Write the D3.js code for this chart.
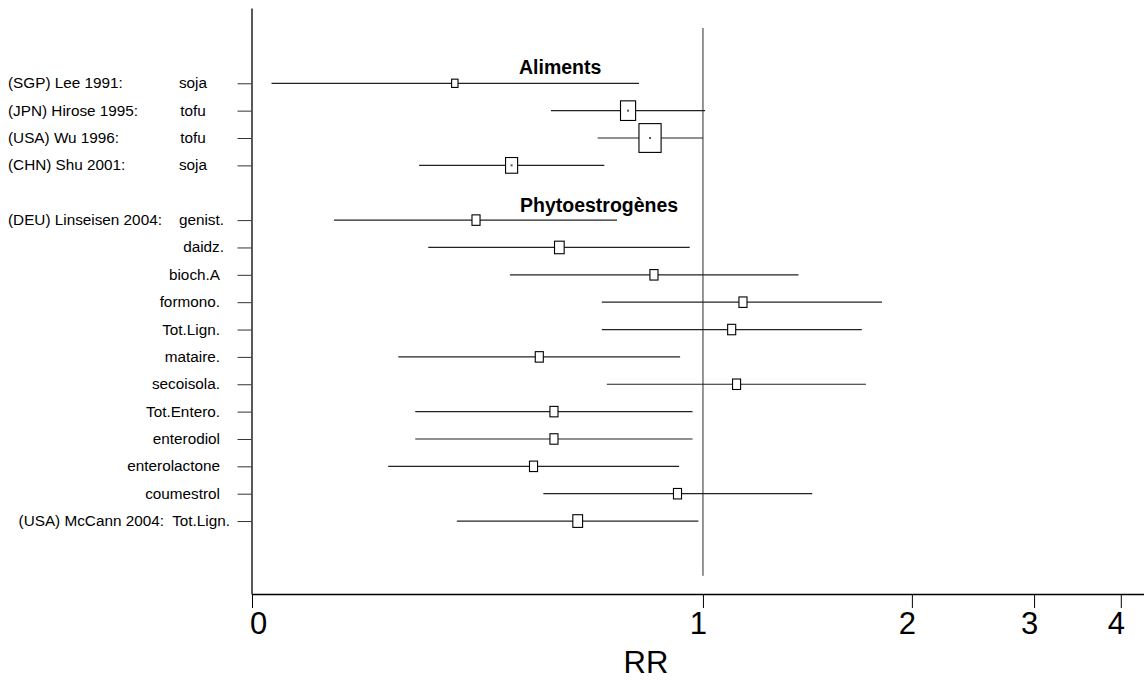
<!DOCTYPE html>
<html>
<head>
<meta charset="utf-8">
<script src="https://cdn.jsdelivr.net/npm/d3@7"></script>
<style>
  html, body { margin: 0; padding: 0; background: #fff; }
  svg { display: block; font-family: "Liberation Sans", Arial, sans-serif; }
  text { white-space: pre; }
</style>
</head>
<body>
<svg id="chart" width="1144" height="681"></svg>
<script>
// ---- data ----
const rows      = [0, 1, 2, 3, 5, 6, 7, 8, 9, 10, 11, 12, 13, 14, 15, 16];
const studies   = ["(SGP) Lee 1991:", "(JPN) Hirose 1995:", "(USA) Wu 1996:", "(CHN) Shu 2001:",
                   "(DEU) Linseisen 2004:", "", "", "", "", "", "", "", "", "", "", ""];
const exposures = ["soja", "tofu", "tofu", "soja",
                   "genist.", "daidz.", "bioch.A", "formono.", "Tot.Lign.", "mataire.", "secoisola.",
                   "Tot.Entero.", "enterodiol", "enterolactone", "coumestrol", "(USA) McCann 2004:  Tot.Lign."];
const rr        = [0.439, 0.780, 0.839, 0.530, 0.471, 0.621, 0.850, 1.142, 1.100, 0.581, 1.118, 0.610, 0.610, 0.570, 0.919, 0.660];
const lower     = [0.239, 0.604, 0.705, 0.390, 0.294, 0.402, 0.527, 0.715, 0.715, 0.364, 0.727, 0.385, 0.385, 0.352, 0.589, 0.442];
const upper     = [0.809, 1.007, 1.000, 0.721, 0.752, 0.957, 1.373, 1.811, 1.694, 0.927, 1.717, 0.966, 0.966, 0.924, 1.437, 0.985];
const weights   = [40, 225, 484, 144, 64, 92, 64, 64, 64, 64, 64, 64, 64, 64, 64, 94];
const groups    = ["Aliments", "Phytoestrogènes"];
const groupRows = [-0.34, 4.70];
const xTickValues = [0.224, 1, 2, 3, 4];
const xTickLabels = ["0", "1", "2", "3", "4"];
const xTitle = "RR";

// ---- scales ----
const svg = d3.select("#chart");
const x = d3.scaleLog().domain([0.224, 4.32]).range([252, 1144]);
const y = d3.scaleLinear().domain([-2.752, 18.666]).range([8, 594]);
const size = d3.scaleSqrt().domain([0, 500]).range([0, 22.5]);

svg.append("rect").attr("width", 1144).attr("height", 681).attr("fill", "#fff");

// ---- axes ----
const xAxis = d3.axisBottom(x)
  .tickValues(xTickValues)
  .tickFormat((d, i) => xTickLabels[i])
  .tickSize(14).tickSizeOuter(0).tickPadding(4);
const gx = svg.append("g").attr("transform", `translate(0,${y(18.666)})`).call(xAxis);
gx.select(".domain").attr("stroke", "#000").attr("stroke-width", 1.3);
gx.selectAll(".tick line").attr("stroke", "#000").attr("stroke-width", 1);
gx.selectAll(".tick text")
  .attr("font-size", 31).attr("fill", "#000")
  .attr("font-family", "Liberation Sans, Arial, sans-serif")
  .attr("dy", "0.72em")
  .attr("dx", (d, i) => i === 0 ? 6 : -5);

const yAxis = d3.axisLeft(y).tickValues(rows).tickFormat("").tickSize(14).tickSizeOuter(0);
const gy = svg.append("g").attr("transform", `translate(${x(0.224) - 0.5},0)`).call(yAxis);
gy.select(".domain").attr("stroke", "#000").attr("stroke-width", 1.3);
gy.selectAll(".tick line").attr("stroke", "#333").attr("stroke-width", 1);

svg.append("text")
  .attr("x", 646).attr("y", 673)
  .attr("text-anchor", "middle")
  .attr("font-size", 31)
  .text(xTitle);

// ---- reference line at RR = 1 ----
svg.append("line")
  .attr("x1", x(1)).attr("x2", x(1))
  .attr("y1", y(-2.02)).attr("y2", y(18.0))
  .attr("stroke", "#7a7a7a").attr("stroke-width", 1.6);

// ---- group headers ----
svg.selectAll("text.group").data(groups).join("text")
  .attr("class", "group")
  .attr("x", (d, i) => i === 0 ? 519 : 520)
  .attr("y", (d, i) => y(groupRows[i]))
  .attr("font-size", 19.5).attr("font-weight", "bold")
  .text(d => d);

// ---- row labels ----
const data = rows.map((r, i) => ({
  row: r, study: studies[i], exposure: exposures[i],
  rr: rr[i], lo: lower[i], hi: upper[i], w: weights[i], i
}));

svg.selectAll("text.study").data(data.filter(d => d.study)).join("text")
  .attr("class", "study")
  .attr("x", 8).attr("y", d => y(d.row) + 5)
  .attr("font-size", 15.3)
  .text(d => d.study);

svg.selectAll("text.expo").data(data).join("text")
  .attr("class", "expo")
  .attr("x", d => d.row < 4 ? 193 : (d.row === 16 ? 230 : (d.row <= 6 ? 224 : 220)))
  .attr("y", d => y(d.row) + 5)
  .attr("text-anchor", d => d.row < 4 ? "middle" : "end")
  .attr("font-size", 15.3)
  .text(d => d.exposure);

// ---- confidence intervals ----
svg.selectAll("line.ci").data(data).join("line")
  .attr("class", "ci")
  .attr("x1", d => x(d.lo)).attr("x2", d => x(d.hi))
  .attr("y1", d => y(d.row)).attr("y2", d => y(d.row))
  .attr("stroke", "#222").attr("stroke-width", 1.2);

// ---- boxes ----
svg.selectAll("rect.box").data(data).join("rect")
  .attr("class", "box")
  .attr("x", d => x(d.rr) - size(d.w) / 2)
  .attr("y", d => y(d.row) - size(d.w) * 1.3 / 2)
  .attr("width", d => size(d.w))
  .attr("height", d => size(d.w) * 1.3)
  .attr("fill", "#fff")
  .attr("stroke", "#000").attr("stroke-width", 1.1);

svg.selectAll("rect.dot").data(data.filter(d => size(d.w) > 11)).join("rect")
  .attr("class", "dot")
  .attr("x", d => x(d.rr) - 1).attr("y", d => y(d.row) - 1)
  .attr("width", 2).attr("height", 2)
  .attr("fill", "#555");
</script>
</body>
</html>
